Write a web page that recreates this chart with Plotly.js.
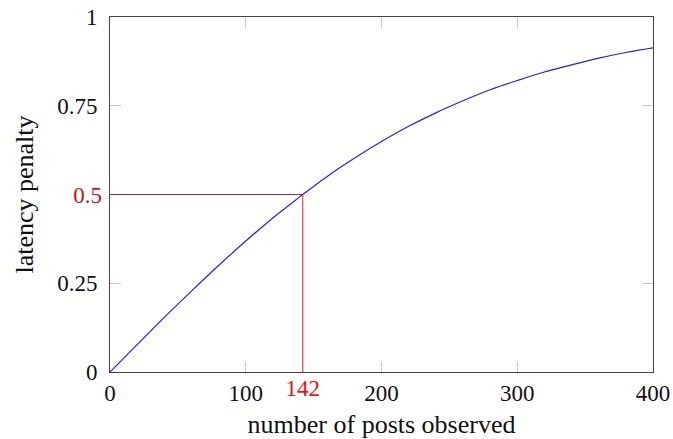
<!DOCTYPE html>
<html>
<head>
<meta charset="utf-8">
<script src="https://cdn.plot.ly/plotly-3.0.1.min.js"></script>
<style>
  html, body { margin: 0; padding: 0; background: #fff; }
  #chart { width: 673px; height: 439px; }
</style>
</head>
<body>
<div id="chart"></div>
<script>
// Latency penalty as a function of the number of posts observed
const postsObserved = [0, 20, 40, 60, 80, 100, 120, 140, 142, 160, 180, 200, 220, 240, 260, 280, 300, 320, 340, 360, 380, 400];
const latencyPenalty = [0, 0.077, 0.154, 0.228, 0.300, 0.369, 0.434, 0.494, 0.5, 0.551, 0.602, 0.649, 0.692, 0.730, 0.764, 0.795, 0.821, 0.845, 0.865, 0.884, 0.900, 0.913];

// Point where the penalty reaches one half
const halfPosts = 142;
const halfPenalty = 0.5;

const xTicks = [0, 100, 200, 300, 400];
const xTickText = ['0', '100', '200', '300', '400'];
const yTicks = [0, 0.25, 0.75, 1];
const yTickText = ['0', '0.25', '0.75', '1'];

const X_RANGE = [0, 400];
const Y_RANGE = [0, 1];

const FONT = '"Liberation Serif", "DejaVu Serif", serif';
const TICK_SIZE = 23;
const TITLE_SIZE = 26;

const traces = [
  { // horizontal guide at penalty = 0.5
    x: [0, halfPosts], y: [halfPenalty, halfPenalty],
    xaxis: 'x2', yaxis: 'y2',
    mode: 'lines', line: { color: '#8e3232', width: 1 },
    hoverinfo: 'skip', showlegend: false
  },
  { // vertical guide at 142 posts
    x: [halfPosts, halfPosts], y: [0, halfPenalty],
    xaxis: 'x2', yaxis: 'y2',
    mode: 'lines', line: { color: '#ee1c24', width: 1 },
    hoverinfo: 'skip', showlegend: false
  },
  {
    x: postsObserved, y: latencyPenalty,
    mode: 'lines', line: { color: '#2222dd', width: 1.2, shape: 'spline' },
    showlegend: false
  }
];

const axisCommon = {
  showgrid: false, zeroline: false,
  showline: true, linecolor: '#444', linewidth: 1,
  mirror: 'allticks',
  ticks: 'inside', ticklen: 11, tickwidth: 1.3, tickcolor: '#c8c8c8',
  tickfont: { family: FONT, size: TICK_SIZE, color: '#111' }
};

// Overlay axes that carry only the highlighted labels (142 and 0.5)
const markAxis = {
  showgrid: false, zeroline: false, showline: false, ticks: '',
  tickmode: 'array'
};

const layout = {
  width: 673, height: 439,
  margin: { l: 110, r: 20, t: 17, b: 67 },
  paper_bgcolor: '#fff', plot_bgcolor: '#fff',
  font: { family: FONT, size: TICK_SIZE, color: '#111' },
  xaxis: Object.assign({}, axisCommon, {
    range: X_RANGE, tickmode: 'array', tickvals: xTicks, ticktext: xTickText,
    ticklabelstandoff: 0,
    title: { text: 'number of posts observed', font: { family: FONT, size: TITLE_SIZE, color: '#111' }, standoff: 12 }
  }),
  yaxis: Object.assign({}, axisCommon, {
    range: Y_RANGE, tickmode: 'array', tickvals: yTicks, ticktext: yTickText,
    ticklabelstandoff: 7,
    title: { text: 'latency penalty', font: { family: FONT, size: TITLE_SIZE, color: '#111' }, standoff: 16 }
  }),
  xaxis2: Object.assign({}, markAxis, {
    overlaying: 'x', side: 'bottom', range: X_RANGE,
    tickvals: [halfPosts], ticktext: [String(halfPosts)],
    ticklabelstandoff: 0,
    tickfont: { family: FONT, size: TICK_SIZE, color: '#ee1111' }
  }),
  yaxis2: Object.assign({}, markAxis, {
    overlaying: 'y', side: 'left', range: Y_RANGE,
    tickvals: [halfPenalty], ticktext: [String(halfPenalty)],
    ticklabelstandoff: 7,
    tickfont: { family: FONT, size: TICK_SIZE, color: '#c41414' }
  })
};

Plotly.newPlot('chart', traces, layout, { displayModeBar: false, staticPlot: true });
</script>
</body>
</html>
